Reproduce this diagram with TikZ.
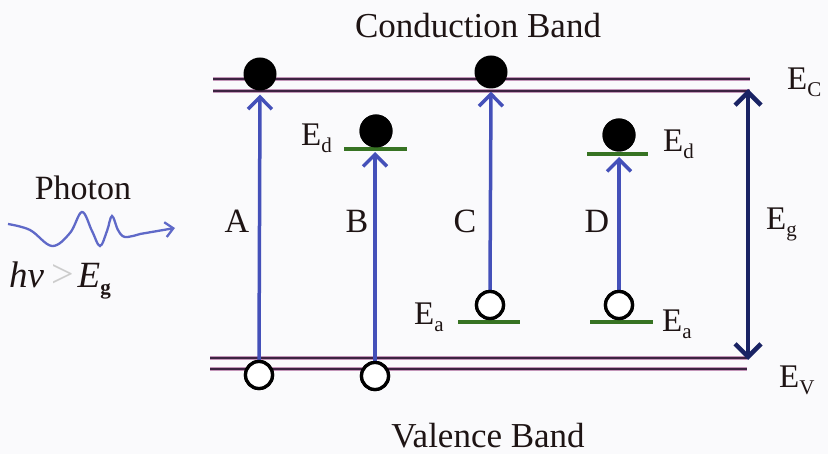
\documentclass[tikz,border=0pt]{standalone}
\usepackage{fontspec}
\setmainfont{Liberation Serif}
\usetikzlibrary{arrows.meta}
\definecolor{bandcol}{RGB}{60,35,65}
\definecolor{bandhalo}{RGB}{195,150,185}
\definecolor{blueA}{RGB}{68,80,185}
\definecolor{navyA}{RGB}{25,35,100}
\definecolor{greenL}{RGB}{55,115,35}
\definecolor{waveC}{RGB}{95,105,200}
\definecolor{txtcol}{RGB}{30,20,20}
\definecolor{bgcol}{RGB}{250,250,252}
\newcommand\lowsub[1]{\raisebox{-7pt}{\fontsize{21}{21}\selectfont #1}}
\begin{document}
\begin{tikzpicture}[x=1pt,y=-1pt,
  electron/.style={circle,fill=black,minimum size=33pt,inner sep=0pt},
  hole/.style={circle,draw=black,fill=white,line width=3.3pt,minimum size=27pt,inner sep=0pt},
  lbl/.style={inner sep=0pt,anchor=base west,text=txtcol,font=\fontsize{33}{33}\selectfont},
  bigtxt/.style={inner sep=0pt,anchor=base,text=txtcol,font=\fontsize{35}{35}\selectfont},
  letter/.style={inner sep=0pt,anchor=base,text=txtcol,font=\fontsize{34}{34}\selectfont},
  bluearrow/.style={draw=blueA,line width=3.5pt,-{Straight Barb[length=12pt,width=24pt]}},
  level/.style={draw=greenL,line width=4.5pt},
  bandhalo/.style={draw=bandhalo,line width=4.5pt},
  band/.style={draw=bandcol,line width=2.5pt}]
\fill[bgcol] (0,0) rectangle (828,454);
\useasboundingbox (0,0) rectangle (828,454);

% titles
\node[bigtxt] (cb) at (478,38) {Conduction Band};
\node[bigtxt] (vb) at (488,447) {Valence Band};

% bands
\coordinate (c1l) at (213,79); \coordinate (c1r) at (750,79);
\coordinate (c2l) at (213,91); \coordinate (c2r) at (750,91);
\coordinate (v1l) at (210,358); \coordinate (v1r) at (747,358);
\coordinate (v2l) at (210,369); \coordinate (v2r) at (747,369);
\foreach \a/\b in {c1l/c1r,c2l/c2r,v1l/v1r,v2l/v2r}{
  \draw[bandhalo] (\a) -- (\b);
  \draw[band] (\a) -- (\b);
}

% impurity levels
\coordinate (edBl) at (344,149); \coordinate (edBr) at (407,149);
\coordinate (edDl) at (587,154); \coordinate (edDr) at (648,154);
\coordinate (eaCl) at (458,322); \coordinate (eaCr) at (520,322);
\coordinate (eaDl) at (590,322); \coordinate (eaDr) at (653,322);

% electrons and holes
\node[electron] (eA) at (260,74) {};
\node[electron] (eB) at (376,131) {};
\node[electron] (eC) at (491,72) {};
\node[electron] (eD) at (619,135) {};
\node[hole] (hA) at (259,375) {};
\node[hole] (hB) at (375,376) {};
\node[hole] (hC) at (490,305) {};
\node[hole] (hD) at (619,305) {};

\coordinate (tipB) at (375,152);
\coordinate (tipD) at (619,157);

% transitions
\draw[bluearrow,shorten >=4pt] (hA.north) -- (eA.south);
\draw[bluearrow] (hB.north) -- (tipB);
\draw[bluearrow,shorten >=3pt] (hC.north) -- (eC.south);
\draw[bluearrow] (hD.north) -- (tipD);

\draw[level] (edBl) -- (edBr);
\draw[level] (edDl) -- (edDr);
\draw[level] (eaCl) -- (eaCr);
\draw[level] (eaDl) -- (eaDr);

% redraw particles over arrows/levels
\node[electron] at (eB) {};
\node[electron] at (eD) {};
\node[hole] at (hA) {};
\node[hole] at (hB) {};
\node[hole] at (hC) {};
\node[hole] at (hD) {};

% band gap arrow
\coordinate (gTop) at (748,89);
\coordinate (gBot) at (748,360);
\draw[navyA,line width=4.5pt,{Straight Barb[length=13pt,width=26pt]}-{Straight Barb[length=13pt,width=26pt]}] (gTop) -- (gBot);

% letters
\node[letter] (lA) at (237,233) {A};
\node[letter] (lB) at (357,233) {B};
\node[letter] (lC) at (465,233) {C};
\node[letter] (lD) at (597,233) {D};

% energy labels
\node[lbl] (lEd1) at (301,146) {E\lowsub{d}};
\node[lbl] (lEd2) at (663,152) {E\lowsub{d}};
\node[lbl] (lEc) at (787,90) {E\lowsub{C}};
\node[lbl] (lEg) at (766,230) {E\lowsub{g}};
\node[lbl] (lEa1) at (414,325) {E\lowsub{a}};
\node[lbl] (lEa2) at (662,332) {E\lowsub{a}};
\node[lbl] (lEv) at (779,388) {E\lowsub{V}};

% photon
\node[inner sep=0pt,anchor=base,text=txtcol,font=\fontsize{34}{34}\selectfont] (ph) at (83,200) {Photon};
\coordinate (wEnd) at (175,228);
\draw[waveC,line width=2.3pt,-{Straight Barb[length=8pt,width=15pt]}]
  plot[smooth,tension=0.6] coordinates {(8,224) (30,230) (52,246) (70,233) (82,212) (92,231) (100,246) (107,231) (112,216) (118,230) (125,237) (140,234)} -- (wEnd);
\node[inner sep=0pt,anchor=base west,text=txtcol,font=\fontsize{37}{37}\selectfont] (hv) at (9,288)
  {\textit{hv}\kern7pt{\fontsize{40}{40}\selectfont\textcolor{gray!40}{>}}\kern4pt\textit{E}\lowsub{\textbf{g}}};
\end{tikzpicture}
\end{document}
